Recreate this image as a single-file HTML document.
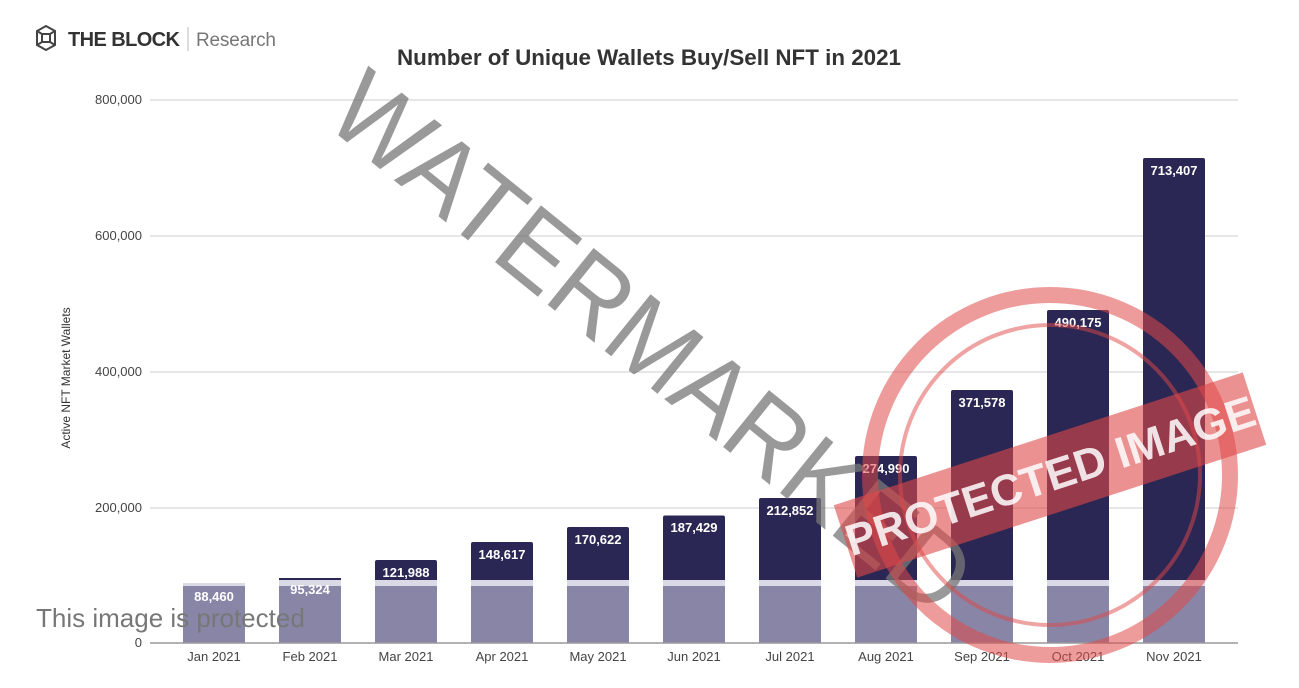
<!DOCTYPE html>
<html><head><meta charset="utf-8"><style>
body{margin:0;width:1299px;height:688px;background:#fff;overflow:hidden;position:relative;font-family:"Liberation Sans",sans-serif}
</style></head><body>
<svg width="1299" height="688" style="position:absolute;left:0;top:0" font-family="Liberation Sans, sans-serif">
<g fill="none" stroke="#444" stroke-width="2">
<polygon points="37,31 46,26 55,31 55,45 46,50 37,45"/><rect x="42" y="34" width="8" height="8"/>
<line x1="37" y1="31" x2="42" y2="34"/><line x1="55" y1="31" x2="50" y2="34"/><line x1="37" y1="45" x2="42" y2="42"/><line x1="55" y1="45" x2="50" y2="42"/>
</g>
<text x="68" y="46" font-size="20" font-weight="bold" fill="#333" textLength="112">THE BLOCK</text>
<line x1="188" y1="27" x2="188" y2="51" stroke="#bbb"/>
<text x="196" y="46" font-size="19" fill="#777" textLength="80">Research</text>
<text x="397" y="65" font-size="22" font-weight="bold" fill="#333" textLength="504" lengthAdjust="spacingAndGlyphs">Number of Unique Wallets Buy/Sell NFT in 2021</text>
<g stroke="#ccc" stroke-width="1">
<line x1="150" y1="100" x2="1238" y2="100"/><line x1="150" y1="236" x2="1238" y2="236"/>
<line x1="150" y1="372" x2="1238" y2="372"/><line x1="150" y1="508" x2="1238" y2="508"/>
</g>
<g font-size="13" fill="#444" text-anchor="end">
<text x="142" y="104">800,000</text><text x="142" y="240">600,000</text><text x="142" y="376">400,000</text><text x="142" y="512">200,000</text><text x="142" y="647">0</text>
</g>
<text transform="translate(70,378) rotate(-90)" font-size="12" fill="#333" text-anchor="middle">Active NFT Market Wallets</text>

<rect x="183" y="583" width="62" height="4" fill="#dcd9e6"/><rect x="183" y="586" width="62" height="57" fill="#8985a6"/>
<g fill="#2b2754">
<rect x="279" y="578" width="62" height="4"/>
<rect x="375" y="560" width="62" height="22" rx="2"/>
<rect x="471" y="542" width="62" height="40" rx="2"/>
<rect x="567" y="527" width="62" height="55" rx="2"/>
<rect x="663" y="515.5" width="62" height="66" rx="2"/>
<rect x="759" y="498" width="62" height="84" rx="2"/>
<rect x="855" y="456" width="62" height="126" rx="2"/>
<rect x="951" y="390" width="62" height="192" rx="2"/>
<rect x="1047" y="310" width="62" height="272" rx="2"/>
<rect x="1143" y="158" width="62" height="424" rx="2"/>
</g>
<g fill="#dcd9e6">
<rect x="279" y="580" width="62" height="6"/><rect x="375" y="580" width="62" height="6"/><rect x="471" y="580" width="62" height="6"/><rect x="567" y="580" width="62" height="6"/><rect x="663" y="580" width="62" height="6"/><rect x="759" y="580" width="62" height="6"/><rect x="855" y="580" width="62" height="6"/><rect x="951" y="580" width="62" height="6"/><rect x="1047" y="580" width="62" height="6"/><rect x="1143" y="580" width="62" height="6"/>
</g>
<g fill="#8985a6">
<rect x="279" y="586" width="62" height="57"/><rect x="375" y="586" width="62" height="57"/><rect x="471" y="586" width="62" height="57"/><rect x="567" y="586" width="62" height="57"/><rect x="663" y="586" width="62" height="57"/><rect x="759" y="586" width="62" height="57"/><rect x="855" y="586" width="62" height="57"/><rect x="951" y="586" width="62" height="57"/><rect x="1047" y="586" width="62" height="57"/><rect x="1143" y="586" width="62" height="57"/>
</g>
<line x1="150" y1="643" x2="1238" y2="643" stroke="#999" stroke-width="1.5"/>
<g font-size="13" font-weight="bold" fill="#fff" text-anchor="middle">
<text x="214" y="601">88,460</text><text x="310" y="594">95,324</text><text x="406" y="577">121,988</text><text x="502" y="559">148,617</text><text x="598" y="544">170,622</text><text x="694" y="532">187,429</text><text x="790" y="515">212,852</text><text x="886" y="473">274,990</text><text x="982" y="407">371,578</text><text x="1078" y="327">490,175</text><text x="1174" y="175">713,407</text>
</g>
<g font-size="13" fill="#444" text-anchor="middle">
<text x="214" y="661">Jan 2021</text><text x="310" y="661">Feb 2021</text><text x="406" y="661">Mar 2021</text><text x="502" y="661">Apr 2021</text><text x="598" y="661">May 2021</text><text x="694" y="661">Jun 2021</text><text x="790" y="661">Jul 2021</text><text x="886" y="661">Aug 2021</text><text x="982" y="661">Sep 2021</text><text x="1078" y="661">Oct 2021</text><text x="1174" y="661">Nov 2021</text>
</g>
<text transform="translate(322,122) rotate(39)" font-size="106" fill="#777" opacity="0.75" textLength="790" lengthAdjust="spacingAndGlyphs">WATERMARKED</text>
<text x="36" y="627" font-size="26" fill="#777">This image is protected</text>
<circle cx="1050" cy="475" r="180" fill="none" stroke="#e04848" stroke-width="16" opacity="0.55"/>
<circle cx="1050" cy="475" r="150" fill="none" stroke="#e04848" stroke-width="4" opacity="0.5"/>
<g transform="translate(1050,475) rotate(-18)"><rect x="-215" y="-38" width="430" height="76" fill="#e04848" opacity="0.6"/><text x="0" y="16" font-size="44" font-weight="bold" fill="#fff" text-anchor="middle" opacity="0.85">PROTECTED IMAGE</text></g>
</svg>
</body></html>
